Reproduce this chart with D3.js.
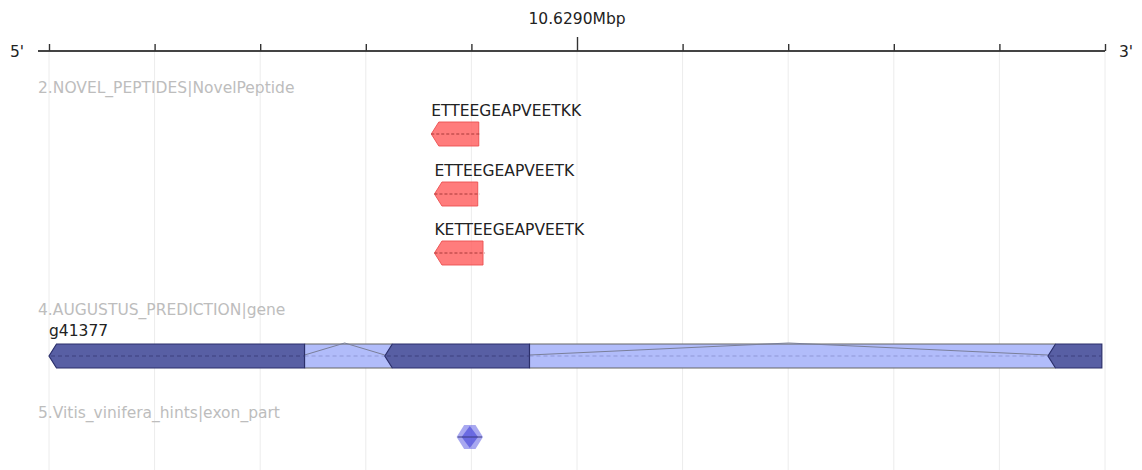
<!DOCTYPE html>
<html>
<head>
<meta charset="utf-8">
<script src="https://cdn.jsdelivr.net/npm/d3@7"></script>
<style>
  html, body { margin: 0; padding: 0; background: #fff; }
  svg { display: block; font-family: "DejaVu Sans", sans-serif; }
</style>
</head>
<body>
<svg id="chart" width="1142" height="470"></svg>
<script>
// Genomic window (bp) and ruler ticks
const regionStart = 10628500;
const regionEnd = 10629500;
const tickPositions = d3.range(10628500, 10629501, 100);
const centerTick = 10629000;
const centerLabel = "10.6290Mbp";

// Track titles
const trackTitles = [
  "2.NOVEL_PEPTIDES|NovelPeptide",
  "4.AUGUSTUS_PREDICTION|gene",
  "5.Vitis_vinifera_hints|exon_part"
];

// Novel peptides (reverse strand)
const peptideNames = ["ETTEEGEAPVEETKK", "ETTEEGEAPVEETK", "KETTEEGEAPVEETK"];
const peptideStarts = [10628862, 10628865, 10628865];
const peptideEnds = [10628907, 10628906, 10628911];

// AUGUSTUS gene model (reverse strand)
const geneName = "g41377";
const geneStart = 10628500;
const geneEnd = 10629497;
const exonStarts = [10628500, 10628818, 10629446];
const exonEnds = [10628742, 10628955, 10629497];

// Vitis vinifera exon_part hint
const hintStarts = [10628886];
const hintEnds = [10628911];

const FONT = 15.5;
const svg = d3.select("#chart");
const x = d3.scaleLinear().domain([regionStart, regionEnd]).range([49, 1105]);

const TIP = 7.5;        // arrow head width in px
const H = 24;           // feature height in px

// vertical grid
svg.append("g").selectAll("line").data(tickPositions).join("line")
  .attr("x1", d => x(d)).attr("x2", d => x(d))
  .attr("y1", 51).attr("y2", 470)
  .attr("stroke", "#ececec").attr("stroke-width", 1);

// ruler
const axisG = svg.append("g").attr("transform", "translate(0,51)");
const axis = d3.axisTop(x).tickValues(tickPositions).tickSize(7).tickFormat("");
axisG.call(axis);
axisG.select(".domain").attr("d", `M38,0H${x(regionEnd)}`).attr("stroke", "#444").attr("stroke-width", 2.2);
axisG.selectAll(".tick line").attr("stroke", "#333").attr("stroke-width", 1.4)
  .attr("y2", d => d === centerTick ? -14 : -7);
svg.append("text").attr("x", x(centerTick)).attr("y", 24).attr("text-anchor", "middle")
  .attr("font-size", FONT).attr("fill", "#222").text(centerLabel);
svg.append("text").attr("x", 10).attr("y", 57).attr("font-size", FONT).attr("fill", "#222").text("5'");
svg.append("text").attr("x", 1119).attr("y", 57).attr("font-size", FONT).attr("fill", "#222").text("3'");

// track titles
const titleY = [93, 315, 418];
svg.append("g").selectAll("text").data(trackTitles).join("text")
  .attr("x", 38).attr("y", (d, i) => titleY[i])
  .attr("font-size", FONT).attr("fill", "#bdbdbd").text(d => d);

// reverse-strand arrow shape
function revArrow(x0, x1, yTop, h) {
  const yc = yTop + h / 2;
  return `M${x0},${yc}L${x0 + TIP},${yTop}H${x1}V${yTop + h}H${x0 + TIP}Z`;
}

// peptides
const peptides = peptideNames.map((n, i) => ({ name: n, start: peptideStarts[i], end: peptideEnds[i] }));
const pepTop = [122, 182, 241];
const pepG = svg.append("g").selectAll("g").data(peptides).join("g");
pepG.append("path")
  .attr("d", (d, i) => revArrow(x(d.start), x(d.end), pepTop[i], H))
  .attr("fill", "rgba(255,95,95,0.82)").attr("stroke", "rgba(235,80,80,0.9)").attr("stroke-width", 1);
pepG.append("line")
  .attr("x1", d => x(d.start)).attr("x2", d => x(d.end) + 2)
  .attr("y1", (d, i) => pepTop[i] + H / 2).attr("y2", (d, i) => pepTop[i] + H / 2)
  .attr("stroke", "#a83838").attr("stroke-width", 1).attr("stroke-dasharray", "3,2");
pepG.append("text")
  .attr("x", d => x(d.start)).attr("y", (d, i) => pepTop[i] - 6)
  .attr("font-size", FONT).attr("fill", "#222").text(d => d.name);

// gene model
const geneTop = 344;
const yc = geneTop + H / 2;
const exons = exonStarts.map((s, i) => ({ start: s, end: exonEnds[i] }));
const introns = exons.slice(0, -1).map((e, i) => ({ start: e.end, end: exons[i + 1].start }));
const geneG = svg.append("g");

// intron background band with splice connector
introns.forEach(d => {
  geneG.append("rect")
    .attr("x", x(d.start)).attr("y", geneTop)
    .attr("width", x(d.end) + TIP - x(d.start)).attr("height", H)
    .attr("fill", "#b1bcfa");
  geneG.append("line").attr("x1", x(d.start)).attr("x2", x(d.end) + TIP)
    .attr("y1", geneTop).attr("y2", geneTop).attr("stroke", "#666").attr("stroke-width", 1.2);
  geneG.append("line").attr("x1", x(d.start)).attr("x2", x(d.end) + TIP)
    .attr("y1", geneTop + H).attr("y2", geneTop + H).attr("stroke", "#666").attr("stroke-width", 1.2);
  geneG.append("line").attr("x1", x(d.start)).attr("x2", x(d.end))
    .attr("y1", yc).attr("y2", yc)
    .attr("stroke", "#8f97d6").attr("stroke-width", 1).attr("stroke-dasharray", "4,3");
  const mid = (x(d.start) + x(d.end)) / 2;
  geneG.append("path")
    .attr("d", `M${x(d.start)},${yc - 1}L${mid},${geneTop - 1}L${x(d.end)},${yc - 1}`)
    .attr("fill", "none").attr("stroke", "#7a7f99").attr("stroke-width", 1);
});

// exons
const exG = geneG.selectAll("g.exon").data(exons).join("g").attr("class", "exon");
exG.append("path")
  .attr("d", d => revArrow(x(d.start), x(d.end), geneTop, H))
  .attr("fill", "#585fa4").attr("stroke", "#2b2f6b").attr("stroke-width", 1.2);
exG.append("line")
  .attr("x1", d => x(d.start) + 2).attr("x2", d => x(d.end))
  .attr("y1", yc).attr("y2", yc)
  .attr("stroke", "#3c417f").attr("stroke-width", 1).attr("stroke-dasharray", "4,3");

svg.append("text").attr("x", x(geneStart)).attr("y", 336)
  .attr("font-size", FONT).attr("fill", "#222").text(geneName);

// hints (unstranded, drawn as a double-pointed glyph)
const hints = hintStarts.map((s, i) => ({ start: s, end: hintEnds[i] }));
const hintTop = 425, hintH = 24, hyc = hintTop + hintH / 2;
const hG = svg.append("g").selectAll("g").data(hints).join("g");
hG.append("path")
  .attr("d", d => {
    const a = x(d.start), b = x(d.end);
    return `M${a},${hyc}L${a + TIP},${hintTop}H${b - TIP}L${b},${hyc}L${b - TIP},${hintTop + hintH}H${a + TIP}Z`;
  })
  .attr("fill", "rgba(110,110,230,0.6)");
hG.append("path")
  .attr("d", d => {
    const a = x(d.start), b = x(d.end), m = (a + b) / 2;
    return `M${a + 5},${hyc}L${m},${hintTop + 1}L${b - 5},${hyc}L${m},${hintTop + hintH - 1}Z`;
  })
  .attr("fill", "rgba(80,80,220,0.7)");
hG.append("line")
  .attr("x1", d => x(d.start) + 1).attr("x2", d => x(d.end) - 1)
  .attr("y1", hyc).attr("y2", hyc)
  .attr("stroke", "#3a3a80").attr("stroke-width", 1);
</script>
</body>
</html>
